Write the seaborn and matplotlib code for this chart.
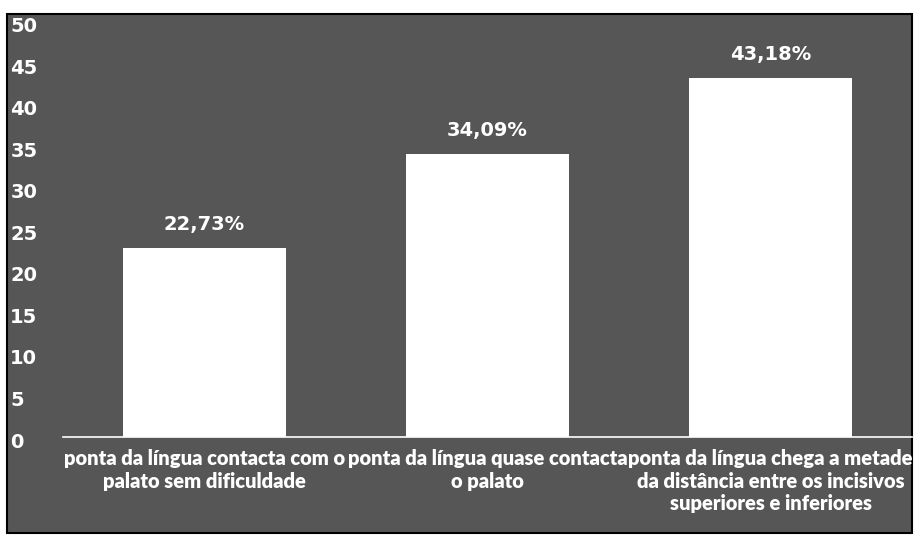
import matplotlib
matplotlib.use("Agg")
import matplotlib.pyplot as plt
import matplotlib.patches as mpatches
import matplotlib.transforms as mtransforms
from matplotlib import font_manager
import seaborn as sns
import pandas as pd

categories = [
    "ponta da língua contacta com o\npalato sem dificuldade",
    "ponta da língua quase contacta\no palato",
    "ponta da língua chega a metade\nda distância entre os incisivos\nsuperiores e inferiores",
]
values = [22.73, 34.09, 43.18]
value_labels = ["22,73%", "34,09%", "43,18%"]
y_ticks = [0, 5, 10, 15, 20, 25, 30, 35, 40, 45, 50]

sns.set_theme(style="white")
plt.rcParams["font.family"] = ["DejaVu Sans"]

installed = {f.name for f in font_manager.fontManager.ttflist}
label_font = "Lato" if "Lato" in installed else "DejaVu Sans"

W, H = 916, 535
bg = "#565656"
fig = plt.figure(figsize=(W / 100, H / 100), dpi=100, facecolor="white")

# dark panel behind the chart, with black side edges
back = fig.add_axes([0, 0, 1, 1], zorder=0)
back.set_axis_off()
back.add_patch(mpatches.Rectangle((7 / W, 2 / H), (912 - 7) / W, (H - 14 - 2) / H,
                                  transform=back.transAxes, facecolor=bg,
                                  edgecolor="black", linewidth=1.5))

left, right = 63, 912
top, bottom = 21.5, 437
ax = fig.add_axes([left / W, (H - bottom) / H, (right - left) / W, (bottom - top) / H],
                  zorder=1)
ax.set_facecolor("none")

df = pd.DataFrame({"categoria": categories, "valor": values})
sns.barplot(data=df, x="categoria", y="valor", color="white", saturation=1,
            width=0.575, edgecolor="none", ax=ax)

for i, (v, lab) in enumerate(zip(values, value_labels)):
    ax.annotate(lab, (i, v), xytext=(0, 10), textcoords="offset points",
                ha="center", va="bottom", color="white", fontsize=14,
                fontweight="bold")

ax.set_ylim(0, 50)
ax.set_xlim(-0.5, 2.5)
ax.set_yticks(y_ticks)
ax.set_yticklabels([str(t) for t in y_ticks], color="white", fontsize=14,
                   fontweight="bold")
ax.tick_params(axis="y", length=0, pad=38)

ax.set_xticks(range(len(categories)))
ax.set_xticklabels(categories, color="white", fontsize=14.5, fontweight="heavy",
                   family=[label_font, "DejaVu Sans"], linespacing=1.2)
ax.tick_params(axis="x", length=0, pad=9)

ax.set_xlabel("")
ax.set_ylabel("")
for side in ["top", "right", "left"]:
    ax.spines[side].set_visible(False)
ax.spines["bottom"].set_color("white")
ax.spines["bottom"].set_linewidth(1.2)

# left-aligned y labels, nudged a little below their ticks
shift = mtransforms.ScaledTranslation(0, -3 / 100, fig.dpi_scale_trans)
for lbl in ax.get_yticklabels():
    lbl.set_horizontalalignment("left")
    lbl.set_verticalalignment("center_baseline")
    lbl.set_transform(lbl.get_transform() + shift)

fig.savefig("out.png", dpi=100, facecolor=fig.get_facecolor())
